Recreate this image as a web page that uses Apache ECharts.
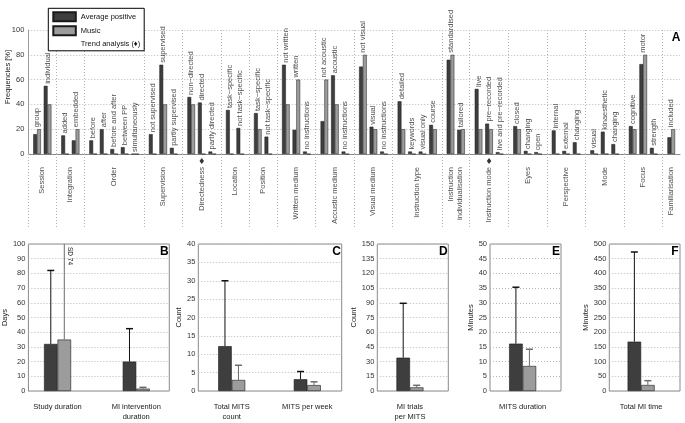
<!DOCTYPE html>
<html><head><meta charset="utf-8">
<script src="https://cdn.jsdelivr.net/npm/echarts@6/dist/echarts.min.js"></script>
<style>html,body{margin:0;padding:0;background:#fff}#c{width:685px;height:423px}</style>
</head><body><div id="c"></div><script>
// ---------- Panel A data ----------
const groupNames = ['Session','Integration','Order','Supervision','Directedness','Location','Position','Written medium','Accustic medium','Visual medium','Instruction type','Instruction\nindividualisation','Instruction mode','Eyes','Perspective','Mode','Focus','Familiarisation'];
const groupTrend = [false,false,false,false,true,false,false,false,false,false,false,false,true,false,false,false,false,false];
const subLabels = [
 ['group','individual'],
 ['added','embedded'],
 ['before','after','before and after','between PP','simultaneously'],
 ['not supervised','supervised','partly supervised'],
 ['non\u2212directed','directed','partly directed'],
 ['task\u2212specific','not task\u2212specific'],
 ['task\u2212specific','not task\u2212specific'],
 ['not written','written','no instructions'],
 ['not acoustic','acoustic','no instructions'],
 ['not visual','visual','no instructions'],
 ['detailed','keywords','visual only','course'],
 ['standardised','tailored'],
 ['live','pre\u2212recorded','live and pre\u2212recorded'],
 ['closed','changing','open'],
 ['internal','external','changing'],
 ['visual','kinaesthetic','changing'],
 ['cognitive','motor','strength'],
 ['included']
];
const avgPositive = [
 [16, 55],
 [15, 11],
 [11, 20, 4, 5.5, 0],
 [16, 72, 5],
 [46, 41.5, 2],
 [35.5, 21],
 [33, 14],
 [72, 19.5, 2],
 [26.5, 63.5, 2],
 [70.5, 22, 2],
 [42.5, 2, 2, 23.5],
 [76, 19.5],
 [52.5, 24.5, 1.5],
 [22.5, 2.5, 1.5],
 [19, 2.5, 9.5],
 [3, 18, 8],
 [22.5, 72.5, 5],
 [13.5]
];
const music = [
 [20, 40],
 [0, 20],
 [0, 0, 0, 0, 0],
 [0, 40, 0],
 [40, 0, 0],
 [0, 0],
 [20, 0],
 [40, 60, 0],
 [60, 40, 0],
 [80, 20, 0],
 [20, 0, 0, 20],
 [80, 20],
 [20, 20, 0],
 [20, 0, 0],
 [0, 0, 0],
 [0, 0, 0],
 [20, 80, 0],
 [20]
];
const yTicksA = [0, 20, 40, 60, 80, 100];

// ---------- Panels B-F data ----------
const panelLetters = ['B','C','D','E','F'];
const panelCats = [
 ['Study duration','MI intervention\nduration'],
 ['Total MITS\ncount','MITS per week'],
 ['MI trials\nper MITS'],
 ['MITS duration'],
 ['Total MI time']
];
const panelAvg   = [[32, 20], [12.2, 3.2], [34], [16.1], [167.8]];
const panelAvgSD = [[50, 22.4], [17.8, 2.1], [55.5], [19.2], [305]];
const panelMusic   = [[35, 1.6], [3, 1.6], [3.7], [8.5], [20.4]];
const panelMusicSD = [[74, 0.9], [4, 0.9], [2.1], [5.7], [14.7]];
const panelYMax = [100, 40, 150, 50, 500];
const panelYStep = [10, 5, 15, 5, 50];
const panelYName = ['Days','Count','Count','Minutes','Minutes'];

// ---------- layout (styles / positions) ----------
const DARK = '#3e3e3e', LIGHT = '#9c9c9c', EDGE = '#1a1a1a';
const FONT = 'Liberation Sans, Arial, sans-serif';
const FS = 7.5;
const GAP = 0.667;
const gridA = {left: 28.3, top: 30, width: 651.7, height: 124};
const gridAL = {left: 28.3, top: 154, width: 651.7, height: 74};
const panelGrid = [
 {left: 27.7, top: 244, width: 141.6, height: 147},
 {left: 198.3, top: 244, width: 143.4, height: 147},
 {left: 377.3, top: 244, width: 71, height: 147},
 {left: 490, top: 244, width: 71, height: 147},
 {left: 609.3, top: 244, width: 70.7, height: 147}
];
const panelXRange = [[0.63, 2.42], [0.558, 2.455], [0.54, 1.54], [0.54, 1.54], [0.55, 1.55]];
const panelNameGap = [17, 14, 19, 15, 19];
const BWA = 3.8, BWP = 13.5;

// ---------- compute positions of panel A from structure ----------
let cursor = 0;
const boundaries = [0];
const centers = [];
const groupCenters = [];
subLabels.forEach((items, g) => {
  const start = cursor;
  cursor += GAP / 2;
  const cs = [];
  items.forEach(() => { cs.push(cursor + 0.5); cursor += 1; });
  cursor += GAP / 2;
  centers.push(cs);
  boundaries.push(cursor);
  groupCenters.push((start + cursor) / 2);
});
const totalA = cursor;

const avgData = [], musicData = [], labelData = [];
subLabels.forEach((items, g) => {
  items.forEach((name, i) => {
    const x = centers[g][i];
    avgData.push([x, avgPositive[g][i]]);
    musicData.push([x, music[g][i]]);
    labelData.push({name: name, value: [x, Math.max(avgPositive[g][i], music[g][i])]});
  });
});

const grids = [gridA, gridAL].concat(panelGrid);
const xAxes = [
 {gridIndex: 0, type: 'value', min: 0, max: totalA, axisLabel: {show: false}, axisTick: {show: false}, splitLine: {show: false},
  axisLine: {show: true, lineStyle: {color: '#8a8a8a', width: 1}}},
 {gridIndex: 1, type: 'value', min: 0, max: totalA, show: false}
];
const yAxes = [
 {gridIndex: 0, type: 'value', min: 0, max: 100, interval: 20,
  axisLine: {show: true, lineStyle: {color: '#9a9a9a'}}, axisTick: {show: false},
  axisLabel: {fontSize: FS, color: '#333', margin: 4, fontFamily: FONT},
  splitLine: {show: true, lineStyle: {type: [1, 2], color: '#b8b8b8', width: 1}}},
 {gridIndex: 1, type: 'value', min: 0, max: 1, inverse: true, show: false}
];
const series = [
 {name: 'Average positive', type: 'bar', xAxisIndex: 0, yAxisIndex: 0, data: avgData, barWidth: BWA, barGap: '0%',
  itemStyle: {color: DARK, borderColor: EDGE, borderWidth: 0.5}, silent: true},
 {name: 'Music', type: 'bar', xAxisIndex: 0, yAxisIndex: 0, data: musicData, barWidth: BWA, barGap: '0%',
  itemStyle: {color: LIGHT, borderColor: EDGE, borderWidth: 0.5}, silent: true},
 {name: 'sublabels', type: 'scatter', xAxisIndex: 0, yAxisIndex: 0, data: labelData, symbolSize: 0, silent: true,
  label: {show: true, position: 'top', distance: 2, rotate: 90, align: 'left', verticalAlign: 'middle',
          formatter: '{b}', fontSize: FS, color: '#1a1a1a', fontFamily: FONT},
  markLine: {silent: true, symbol: ['none', 'none'], label: {show: false},
    lineStyle: {type: [1, 2], color: '#b0b0b0', width: 1},
    data: boundaries.slice(1, -1).map(b => ({xAxis: b}))}},
 {name: 'groups', type: 'scatter', xAxisIndex: 1, yAxisIndex: 1, symbolSize: 0, silent: true,
  data: groupNames.map((n, g) => ({name: n, value: [groupCenters[g], 0]})),
  label: {show: true, position: 'bottom', distance: 13, rotate: 90, align: 'right', verticalAlign: 'middle',
          formatter: '{b}', fontSize: FS, color: '#1a1a1a', fontFamily: FONT, lineHeight: 9},
  markLine: {silent: true, symbol: ['none', 'none'], label: {show: false},
    lineStyle: {type: [1, 2], color: '#b0b0b0', width: 1},
    data: boundaries.map(b => ({xAxis: b}))}},
 {name: 'Trend analysis (\u2666)', type: 'scatter', xAxisIndex: 1, yAxisIndex: 1, symbol: 'diamond', symbolSize: [4.5, 6],
  symbolOffset: [0, 7], itemStyle: {color: '#000'}, silent: true,
  data: groupCenters.map((c, g) => groupTrend[g] ? [c, 0] : null).filter(v => v)}
];

function errRender(params, api) {
  const x = api.value(0), m = api.value(1), sd = api.value(2), side = api.value(3);
  const base = api.coord([x, m]);
  const top = api.coord([x, m + sd]);
  const cx = base[0] + (side === 0 ? -1 : 1) * BWP / 2;
  const rect = params.coordSys;
  const clipped = top[1] < rect.y;
  const ty = Math.max(top[1], rect.y);
  const col = side === 0 ? '#111' : '#6a6a6a';
  const children = [{type: 'line', shape: {x1: cx, y1: base[1], x2: cx, y2: ty}, style: {stroke: col, lineWidth: 1}}];
  if (!clipped) {
    children.push({type: 'line', shape: {x1: cx - 3.5, y1: ty, x2: cx + 3.5, y2: ty}, style: {stroke: col, lineWidth: 1.5}});
  } else {
    children.push({type: 'text', x: cx + 2.5, y: rect.y + 3, rotation: -Math.PI / 2,
      style: {text: 'SD ' + sd, fontSize: 6.5, fill: '#222', align: 'left', verticalAlign: 'bottom', fontFamily: FONT}});
  }
  return {type: 'group', children: children};
}

const graphics = [
 {type: 'text', x: 8, y: 77, rotation: Math.PI / 2, style: {text: 'Frequencies [%]', fontSize: FS, fill: '#222', align: 'center', verticalAlign: 'middle', fontFamily: FONT}},
 {type: 'text', x: 676, y: 38, style: {text: 'A', fontSize: 12, fontWeight: 'bold', fill: '#000', align: 'center', verticalAlign: 'middle', fontFamily: FONT}}
];

panelCats.forEach((cats, p) => {
  const gi = p + 2;
  const g = panelGrid[p];
  grids[gi].show = true;
  grids[gi].borderColor = '#8a8a8a';
  grids[gi].borderWidth = 1;
  xAxes.push({gridIndex: gi, type: 'value', min: panelXRange[p][0], max: panelXRange[p][1],
    axisLine: {show: false}, axisTick: {show: false}, splitLine: {show: false},
    axisLabel: {customValues: cats.map((c, i) => i + 1), formatter: v => cats[Math.round(v) - 1] || '',
      fontSize: FS, color: '#1a1a1a', margin: 11, lineHeight: 10, fontFamily: FONT}});
  yAxes.push({gridIndex: gi, type: 'value', min: 0, max: panelYMax[p], interval: panelYStep[p],
    name: panelYName[p], nameLocation: 'middle', nameGap: panelNameGap[p],
    nameTextStyle: {fontSize: FS, color: '#222', fontFamily: FONT},
    axisLine: {show: false}, axisTick: {show: false},
    axisLabel: {fontSize: FS, color: '#333', margin: 3, fontFamily: FONT},
    splitLine: {show: true, lineStyle: {type: [1, 2], color: '#b8b8b8', width: 1}}});
  series.push({name: 'Average positive', type: 'bar', xAxisIndex: gi, yAxisIndex: gi, barWidth: BWP, barGap: '0%', silent: true,
    itemStyle: {color: DARK, borderColor: EDGE, borderWidth: 0.6},
    data: cats.map((c, i) => [i + 1, panelAvg[p][i]])});
  series.push({name: 'Music', type: 'bar', xAxisIndex: gi, yAxisIndex: gi, barWidth: BWP, barGap: '0%', silent: true,
    itemStyle: {color: LIGHT, borderColor: EDGE, borderWidth: 0.6},
    data: cats.map((c, i) => [i + 1, panelMusic[p][i]])});
  series.push({name: 'err' + p, type: 'custom', xAxisIndex: gi, yAxisIndex: gi, silent: true, z: 5,
    renderItem: errRender, clip: false,
    data: cats.map((c, i) => [i + 1, panelAvg[p][i], panelAvgSD[p][i], 0])
      .concat(cats.map((c, i) => [i + 1, panelMusic[p][i], panelMusicSD[p][i], 1]))});
  graphics.push({type: 'text', x: g.left + g.width - 5, y: g.top + 8,
    style: {text: panelLetters[p], fontSize: 12, fontWeight: 'bold', fill: '#000', align: 'center', verticalAlign: 'middle', fontFamily: FONT}});
});

const chart = echarts.init(document.getElementById('c'));
chart.setOption({
  animation: false,
  backgroundColor: '#fff',
  textStyle: {fontFamily: FONT},
  grid: grids,
  xAxis: xAxes,
  yAxis: yAxes,
  legend: {
    data: [{name: 'Average positive', icon: 'rect'}, {name: 'Music', icon: 'rect'}, {name: 'Trend analysis (\u2666)', icon: 'none'}],
    orient: 'vertical', left: 48.3, top: 8.3, itemWidth: 22.5, itemHeight: 9, itemGap: 3,
    padding: [3, 4, 3, 4], borderColor: '#000', borderWidth: 1, backgroundColor: '#fff',
    selectedMode: false, textStyle: {fontSize: FS, color: '#111', fontFamily: FONT}, z: 10
  },
  graphic: graphics,
  series: series
});
</script></body></html>
